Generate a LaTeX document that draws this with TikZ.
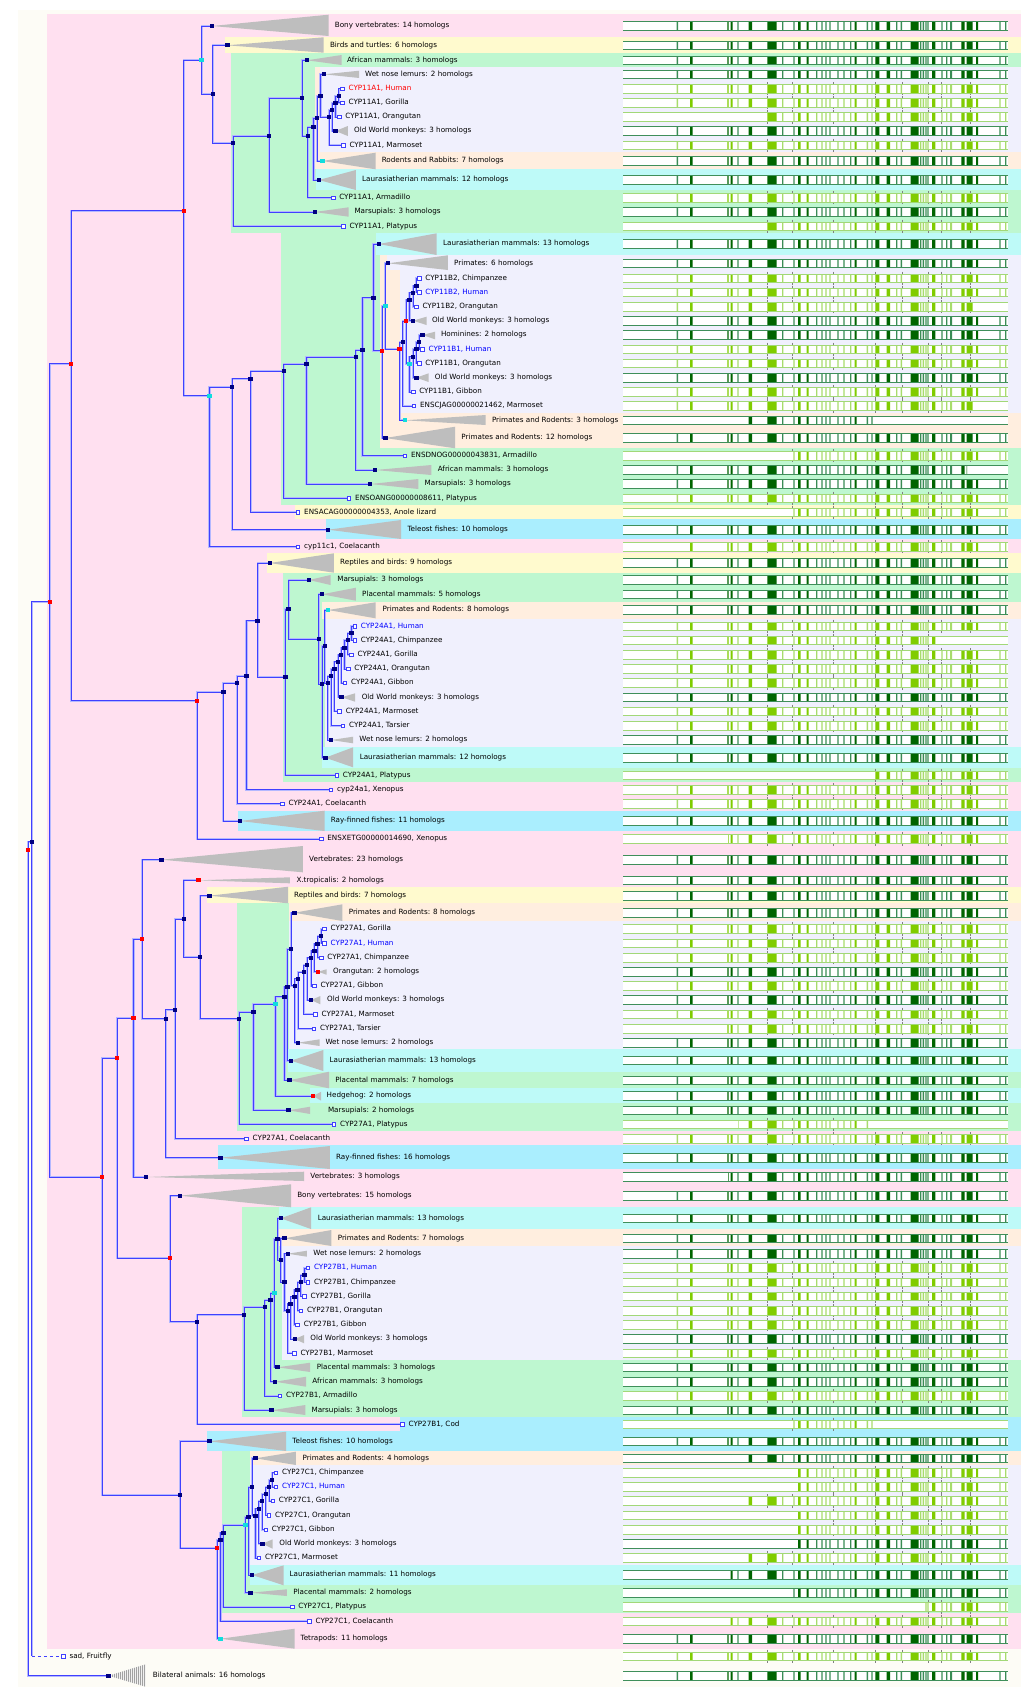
\documentclass[tikz,border=0pt]{standalone}
\usepackage{fontspec}
\setmainfont{DejaVu Sans}
\pgfdeclarelayer{back}
\pgfdeclarelayer{lines}
\pgfsetlayers{back,lines,main}
\definecolor{cream}{HTML}{FDFCF6}
\definecolor{pinkb}{HTML}{FFE0F0}
\definecolor{greenb}{HTML}{BEF7D0}
\definecolor{lavb}{HTML}{F0F0FD}
\definecolor{peachb}{HTML}{FFEEDF}
\definecolor{cyanb}{HTML}{BEFAF8}
\definecolor{blueb}{HTML}{AAEEFE}
\definecolor{yellb}{HTML}{FFFACE}
\definecolor{linec}{HTML}{4040FF}
\definecolor{glowc}{HTML}{B4B8FF}
\definecolor{navy}{HTML}{000080}
\definecolor{dupred}{HTML}{FF0000}
\definecolor{cyn}{HTML}{10DDDD}
\definecolor{trig}{HTML}{BEBEBE}
\definecolor{dkA}{HTML}{006400}
\definecolor{dkB}{HTML}{3A8C55}
\definecolor{ltA}{HTML}{80CC00}
\definecolor{ltB}{HTML}{A8DC6C}
\definecolor{outD}{HTML}{3F8F5A}
\definecolor{outL}{HTML}{A2D878}
\definecolor{tickc}{HTML}{808080}
\definecolor{hublue}{HTML}{0000FF}
\tikzset{
  br/.style={draw=linec, line width=0.9pt, preaction={draw=glowc, line width=2.2pt}},
  sq/.style={rectangle, minimum width=4.4pt, minimum height=4pt, inner sep=0pt, draw=none},
  leafsq/.style={rectangle, minimum size=3.6pt, inner sep=0pt, draw=linec, line width=0.8pt, fill=white},
  lbl/.style={anchor=west, inner sep=0pt, font=\fontsize{7.2}{8}\selectfont, text height=5.2pt, text depth=1.4pt},
  trifill/.style={fill=trig}
}
\def\thicklist{690/2.7, 727.3/1.4, 730.7/2, 748.7/3.3, 767.3/9.4, 798/2.7, 806.7/2, 854.7/2, 875.3/4, 886.7/3.3, 910.7/8, 932/3.3, 961.3/3.4, 966.7/6, 976/2}
\def\thinlist{676.7/1.3, 737.3/1.4, 782/1.3, 793.3/1.4, 816/1.3, 821.3/1.4, 825.3/1.4, 829.3/1.4, 837.3/1.4, 843.3/1.4, 850/1.3, 866.7/1.3, 871.3/1.4, 896/1.3, 900.7/1.3, 920/1.3, 922.7/1.3, 925.3/1.4, 927.3/1.4, 941.3/1.4, 946/1.3, 950/2, 999.3/1.4, 1005/1.3}
\def\ticklist{767.3, 792.7, 833.3, 875.3, 902.7, 928.7, 941.3, 970.7}
\newcommand\band[4]{\fill[#4] (#1,#2) rectangle (1021,#3);}
\newcommand\alnD[3]{%
  \fill[white] (623.3,#1-4.2) rectangle (1008.3,#1+4.2);
  \begin{scope}\clip (#2,#1-5) rectangle (#3,#1+5);
    \fill[dkA] \foreach \a/\w in \thicklist {(\a,#1-4.2) rectangle ++(\w,8.4)};
    \fill[dkB] \foreach \a/\w in \thinlist {(\a,#1-4.2) rectangle ++(\w,8.4)};
  \end{scope}
  \draw[outD,line width=0.8pt] (623.3,#1-4.2) -- (1008.3,#1-4.2) (623.3,#1+4.2) -- (1008.3,#1+4.2);}
\newcommand\alnL[3]{%
  \fill[white] (623.3,#1-4.2) rectangle (1008.3,#1+4.2);
  \begin{scope}\clip (#2,#1-7) rectangle (#3,#1+7);
    \fill[ltA] \foreach \a/\w in \thicklist {(\a,#1-4.2) rectangle ++(\w,8.4)};
    \fill[ltB] \foreach \a/\w in \thinlist {(\a,#1-4.2) rectangle ++(\w,8.4)};
    \draw[tickc,line width=0.6pt] \foreach \t in \ticklist {(\t,#1-6.6) -- (\t,#1-4.2) (\t,#1+4.2) -- (\t,#1+6.6)};
  \end{scope}
  \draw[outL,line width=0.8pt] (623.3,#1-4.2) -- (1008.3,#1-4.2) (623.3,#1+4.2) -- (1008.3,#1+4.2);}
\newcommand\clps[9]{%
  \fill[trifill] (#2,#3) -- (#4,#5) -- (#4,#6) -- cycle;
  \node[sq,fill=#9] (#1) at (#2,#3) {};
  \node[lbl] (#1-t) at (#7,#3) {#8};}
\newcommand\leaf[5]{%
  \node[leafsq] (#1) at (#2,#3) {};
  \node[lbl,text=#5] (#1-t) at (#2+6,#3) {#4};}
\newcommand\inode[4]{\node[sq,fill=#4] (#1) at (#2,#3) {};}
\newcommand\kids[2]{\foreach \c in {#2} {\draw[br] (#1.center) |- (\c.center);}}
\begin{document}
\begin{tikzpicture}[x=1pt,y=-1pt]
\useasboundingbox (0,0) rectangle (1024,1698);
\begin{pgfonlayer}{back}
\fill[white] (0,0) rectangle (1024,1698);
\fill[cream] (18,10.3) rectangle (1021,1687.3);
\band{47.3}{14.3}{1648.7}{pinkb}
\band{224.5}{37.3}{52.7}{yellb}
\band{231}{52.7}{232.7}{greenb}
\band{315.1}{67}{169.3}{peachb}
\band{320.4}{67}{151.7}{lavb}
\band{316.3}{169.3}{190.3}{cyanb}
\band{280.8}{232.7}{504.7}{greenb}
\band{376.3}{232.7}{255}{cyanb}
\band{379.6}{255}{448.3}{peachb}
\band{387}{255}{270}{lavb}
\band{400}{270}{412.7}{lavb}
\band{295.1}{504.7}{519.3}{yellb}
\band{325.7}{519.3}{539}{blueb}
\band{267.3}{553.3}{572.7}{yellb}
\band{282.9}{572.7}{781.7}{greenb}
\band{322.4}{601.7}{619.3}{peachb}
\band{324.5}{619.3}{746.7}{lavb}
\band{322.4}{746.7}{767.7}{cyanb}
\band{237.6}{810.7}{831}{blueb}
\band{206.9}{886.7}{903.3}{yellb}
\band{236.7}{903.3}{1131}{greenb}
\band{288.6}{903.3}{921}{peachb}
\band{288.6}{921}{1049.3}{lavb}
\band{287.8}{1049.3}{1071.7}{cyanb}
\band{310.2}{1088.3}{1102.7}{cyanb}
\band{217.6}{1145}{1169.3}{blueb}
\band{242}{1207.3}{1416.7}{greenb}
\band{278.8}{1207.3}{1229}{cyanb}
\band{278.8}{1229}{1246.3}{peachb}
\band{281.6}{1246.3}{1359.7}{lavb}
\band{400}{1416.7}{1431}{blueb}
\band{206.9}{1431}{1451}{blueb}
\band{221.6}{1451}{1613.3}{greenb}
\band{249.8}{1451}{1465}{peachb}
\band{249.8}{1465}{1564.7}{lavb}
\band{249.8}{1564.7}{1585.3}{cyanb}
% alignment
\alnD{26}{623}{1009}
\alnD{45.3}{623}{1009}
\alnD{60.3}{623}{1009}
\alnD{74.3}{623}{1009}
\alnL{88.7}{623}{1009}
\alnL{102.7}{623}{1009}
\alnL{117}{765}{1009}
\alnD{131}{623}{1009}
\alnL{145.3}{623}{1009}
\alnD{161}{623}{1009}
\alnD{180}{623}{1009}
\alnL{197.7}{623}{1009}
\alnD{212}{623}{1009}
\alnL{226.3}{765}{1009}
\alnD{244}{623}{1009}
\alnD{263.3}{623}{1009}
\alnL{278.3}{623}{1009}
\alnL{292.3}{623}{1009}
\alnL{306.7}{623}{975}
\alnD{320.7}{623}{1009}
\alnD{335}{623}{1009}
\alnL{349.3}{623}{1009}
\alnL{363.3}{623}{1009}
\alnD{377.7}{623}{1009}
\alnL{392}{623}{1009}
\alnL{406}{623}{975}
\alnD{420.3}{745}{873}
\alnD{438}{623}{1009}
\alnL{455.7}{790}{1009}
\alnD{470}{623}{967}
\alnD{484}{623}{1009}
\alnL{498.3}{623}{1009}
\alnL{512.3}{790}{1009}
\alnD{529.7}{623}{1009}
\alnL{546.7}{688}{1009}
\alnD{563}{623}{1009}
\alnD{580}{623}{1009}
\alnD{594.3}{623}{1009}
\alnD{610}{623}{1009}
\alnL{626.3}{623}{1009}
\alnL{640.3}{623}{936}
\alnL{654.7}{623}{1009}
\alnL{669}{623}{1009}
\alnL{683}{623}{1009}
\alnD{697.3}{623}{1009}
\alnL{711.3}{623}{1009}
\alnL{725.7}{623}{1009}
\alnD{740}{623}{1009}
\alnD{757.7}{623}{1009}
\alnL{775.3}{873}{1009}
\alnL{789.7}{623}{1009}
\alnL{803.7}{623}{1009}
\alnD{821}{623}{1009}
\alnL{839}{728}{1009}
\alnD{859.7}{623}{1009}
\alnD{880.3}{623}{1009}
\alnD{895.7}{623}{1009}
\alnD{912.7}{623}{1009}
\alnL{929}{623}{1009}
\alnL{943.3}{623}{1009}
\alnL{957.7}{623}{1009}
\alnD{971.7}{623}{1009}
\alnL{986}{623}{1009}
\alnD{1000}{623}{1009}
\alnL{1014.3}{623}{1009}
\alnL{1028.7}{725}{1009}
\alnD{1042.7}{623}{1009}
\alnD{1060.3}{623}{1009}
\alnD{1080.3}{623}{1009}
\alnD{1096}{623}{1009}
\alnD{1110.3}{623}{1009}
\alnL{1124.3}{738}{868}
\alnL{1138.7}{623}{1009}
\alnD{1157.7}{623}{1009}
\alnD{1177}{728}{1009}
\alnD{1195.7}{623}{1009}
\alnD{1218.3}{623}{1009}
\alnD{1238.3}{623}{1009}
\alnD{1253.7}{623}{1009}
\alnL{1268}{623}{1009}
\alnL{1282.3}{623}{1009}
\alnL{1296.3}{623}{1009}
\alnL{1310.7}{623}{1009}
\alnL{1324.7}{623}{1009}
\alnD{1339}{623}{1009}
\alnL{1353.3}{623}{1009}
\alnD{1367.3}{623}{1009}
\alnD{1381.7}{623}{1009}
\alnL{1396}{623}{1009}
\alnD{1410.3}{623}{1009}
\alnL{1424.3}{790}{873}
\alnD{1441.3}{623}{1009}
\alnD{1458.3}{740}{1009}
\alnL{1472.7}{796}{1009}
\alnL{1487}{796}{1009}
\alnL{1501}{746}{1009}
\alnL{1515.3}{796}{1009}
\alnL{1529.7}{796}{1009}
\alnD{1543.7}{796}{1009}
\alnL{1558}{746}{1009}
\alnD{1575}{730}{1009}
\alnD{1592.7}{791}{1009}
\alnL{1607}{925}{1009}
\alnL{1621.3}{730}{1009}
\alnD{1638.7}{623}{1009}
\alnL{1656.3}{668}{1009}
\alnD{1675.7}{623}{1009}
\end{pgfonlayer}
% collapsed clades
\clps{bony14}{211.8}{26}{328.6}{14.7}{36}{334.7}{Bony vertebrates: 14 homologs}{navy}
\clps{birds6}{227.3}{45.3}{323.7}{37.3}{52.7}{329.8}{Birds and turtles: 6 homologs}{navy}
\clps{afr3a}{307}{60.3}{341.6}{55}{65}{347}{African mammals: 3 homologs}{navy}
\clps{wet2a}{324.1}{74.3}{359.2}{70.7}{78}{364.9}{Wet nose lemurs: 2 homologs}{navy}
\clps{owm3a}{335.5}{131}{347.8}{126}{136}{353.9}{Old World monkeys: 3 homologs}{navy}
\clps{rod7}{322.4}{161}{375.5}{152.7}{169.3}{381.6}{Rodents and Rabbits: 7 homologs}{cyn}
\clps{lau12a}{318.8}{180}{355.9}{170}{190}{362}{Laurasiatherian mammals: 12 homologs}{navy}
\clps{mar3a}{314.7}{212}{348.6}{207.3}{216.7}{354.3}{Marsupials: 3 homologs}{navy}
\clps{lau13a}{378.8}{244}{436.7}{233.3}{255}{442.9}{Laurasiatherian mammals: 13 homologs}{navy}
\clps{prim6}{388.2}{263.3}{447.8}{255.3}{270}{453.9}{Primates: 6 homologs}{navy}
\clps{owm3b}{413.1}{320.7}{426.5}{316.7}{325}{431.8}{Old World monkeys: 3 homologs}{navy}
\clps{hom2}{422.4}{335}{435.1}{331.7}{339.3}{440.8}{Hominines: 2 homologs}{navy}
\clps{owm3c}{416.3}{377.7}{428.6}{373.3}{382}{434.7}{Old World monkeys: 3 homologs}{navy}
\clps{pr3}{404.9}{420.3}{485.7}{415}{425}{491.8}{Primates and Rodents: 3 homologs}{cyn}
\clps{pr12}{385.3}{438}{455.1}{426.7}{448.3}{461.2}{Primates and Rodents: 12 homologs}{navy}
\clps{afr3b}{375.1}{470}{431.4}{465}{475}{437.6}{African mammals: 3 homologs}{navy}
\clps{mar3b}{370.2}{484}{418.4}{479}{489}{424.5}{Marsupials: 3 homologs}{navy}
\clps{tel10a}{328.2}{529.7}{401.2}{520}{539}{407.3}{Teleost fishes: 10 homologs}{navy}
\clps{rep9}{269.8}{563}{333.9}{553.3}{572.7}{340}{Reptiles and birds: 9 homologs}{navy}
\clps{mar3c}{309}{580}{330.6}{575}{585}{337.1}{Marsupials: 3 homologs}{navy}
\clps{pl5}{322}{594.3}{355.9}{587.7}{600.7}{362}{Placental mammals: 5 homologs}{navy}
\clps{pr8a}{328.2}{610}{375.5}{602.3}{618.3}{382.4}{Primates and Rodents: 8 homologs}{cyn}
\clps{owm3d}{341.6}{697.3}{355.1}{693.3}{701.7}{361.6}{Old World monkeys: 3 homologs}{navy}
\clps{wet2b}{331}{740}{353.1}{736.7}{743.3}{359.2}{Wet nose lemurs: 2 homologs}{navy}
\clps{lau12b}{325.3}{757.7}{353.1}{747.3}{767.3}{359.6}{Laurasiatherian mammals: 12 homologs}{navy}
\clps{ray11}{240}{821}{324.5}{810.7}{831}{330.6}{Ray-finned fishes: 11 homologs}{navy}
\clps{vert23}{161.6}{859.7}{302.9}{846}{872.3}{309}{Vertebrates: 23 homologs}{navy}
\clps{xtrop}{198.4}{880.3}{289.8}{877.3}{883.3}{296.3}{X.tropicalis: 2 homologs}{dupred}
\clps{rep7}{209.4}{895.7}{288.2}{886.7}{903.3}{293.9}{Reptiles and birds: 7 homologs}{navy}
\clps{pr8b}{294.3}{912.7}{342.4}{904.3}{921}{348.6}{Primates and Rodents: 8 homologs}{navy}
\clps{ora2}{318}{971.7}{326.5}{969.3}{974.7}{333}{Orangutan: 2 homologs}{dupred}
\clps{owm3e}{311}{1000}{320.4}{996}{1004.3}{327}{Old World monkeys: 3 homologs}{navy}
\clps{wet2c}{298}{1042.7}{319.6}{1039.3}{1046}{325.3}{Wet nose lemurs: 2 homologs}{navy}
\clps{lau13b}{291}{1060.7}{323.3}{1050}{1071}{329.4}{Laurasiatherian mammals: 13 homologs}{navy}
\clps{pl7}{289.4}{1080.3}{329}{1071.7}{1088.3}{335.1}{Placental mammals: 7 homologs}{navy}
\clps{hedge2}{313.1}{1096}{321.2}{1091.7}{1100.7}{326.5}{Hedgehog: 2 homologs}{dupred}
\clps{mar2}{288.6}{1110.3}{310.2}{1106.7}{1114}{327.8}{Marsupials: 2 homologs}{navy}
\clps{ray16}{220.4}{1157.7}{329.8}{1146}{1169}{335.9}{Ray-finned fishes: 16 homologs}{navy}
\clps{vert3}{145.7}{1177}{304.1}{1171.7}{1181}{310.2}{Vertebrates: 3 homologs}{navy}
\clps{bony15}{180}{1195.7}{291}{1184.3}{1207.3}{297.1}{Bony vertebrates: 15 homologs}{navy}
\clps{lau13c}{280.8}{1218.3}{311}{1207.3}{1229}{317.6}{Laurasiatherian mammals: 13 homologs}{navy}
\clps{pr7}{284.5}{1238.3}{331.4}{1230}{1246}{337.6}{Primates and Rodents: 7 homologs}{navy}
\clps{wet2d}{287.8}{1253.7}{306.9}{1250.7}{1256.7}{313.1}{Wet nose lemurs: 2 homologs}{navy}
\clps{owm3f}{294.7}{1339}{304.1}{1335}{1343.3}{310.2}{Old World monkeys: 3 homologs}{navy}
\clps{pl3}{277.6}{1367.3}{310.2}{1362.7}{1372}{316.7}{Placental mammals: 3 homologs}{navy}
\clps{afr3c}{275.1}{1381.7}{306.1}{1376.7}{1386.7}{312.2}{African mammals: 3 homologs}{navy}
\clps{mar3d}{271.4}{1410.3}{305.3}{1405}{1415}{311.4}{Marsupials: 3 homologs}{navy}
\clps{tel10b}{209.4}{1441.3}{286.1}{1431.7}{1451}{292.2}{Teleost fishes: 10 homologs}{navy}
\clps{pr4}{255.5}{1458.3}{295.9}{1451.7}{1465}{302.4}{Primates and Rodents: 4 homologs}{navy}
\clps{owm3g}{262.4}{1543.7}{272.7}{1539.3}{1548.7}{279.2}{Old World monkeys: 3 homologs}{navy}
\clps{lau11}{252.2}{1575}{283.7}{1565.3}{1585.3}{289.4}{Laurasiatherian mammals: 11 homologs}{navy}
\clps{pl2}{250.6}{1592.7}{286.9}{1589.3}{1596}{293.1}{Placental mammals: 2 homologs}{navy}
\clps{tetra11}{220.4}{1638.7}{294.7}{1628.7}{1648.7}{300.4}{Tetrapods: 11 homologs}{cyn}
% bilateral (hatched)
\begin{scope}
\clip (108.6,1675.7) -- (145.7,1664.3) -- (145.7,1686.7) -- cycle;
\fill[gray!12] (100,1660) rectangle (150,1690);
\draw[trig!85!black, line width=0.7pt] \foreach \xx in {110,112,...,146} {(\xx,1660) -- (\xx,1690)};
\end{scope}
\node[sq,fill=navy] (bilat) at (108.6,1675.7) {};
\node[lbl] (bilat-t) at (152.7,1675.7) {Bilateral animals: 16 homologs};
% leaves
\leaf{hum11a}{342.4}{88.7}{CYP11A1, Human}{dupred}
\leaf{gor11a}{342.4}{102.7}{CYP11A1, Gorilla}{black}
\leaf{ora11a}{339.2}{117}{CYP11A1, Orangutan}{black}
\leaf{marm11a}{343.3}{145.3}{CYP11A1, Marmoset}{black}
\leaf{arm11a}{333.1}{197.7}{CYP11A1, Armadillo}{black}
\leaf{pla11a}{343.3}{226.3}{CYP11A1, Platypus}{black}
\leaf{chi11b2}{419.2}{278.3}{CYP11B2, Chimpanzee}{black}
\leaf{hum11b2}{419.2}{292.3}{CYP11B2, Human}{hublue}
\leaf{ora11b2}{416.3}{306.7}{CYP11B2, Orangutan}{black}
\leaf{hum11b1}{422.4}{349.3}{CYP11B1, Human}{hublue}
\leaf{ora11b1}{419.2}{363.3}{CYP11B1, Orangutan}{black}
\leaf{gib11b1}{413.1}{392}{CYP11B1, Gibbon}{black}
\leaf{enscjag}{413.9}{406}{ENSCJAG00000021462, Marmoset}{black}
\leaf{ensdnog}{404.9}{455.7}{ENSDNOG00000043831, Armadillo}{black}
\leaf{ensoang}{349}{498.3}{ENSOANG00000008611, Platypus}{black}
\leaf{ensacag}{298}{512.3}{ENSACAG00000004353, Anole lizard}{black}
\leaf{cyp11c1}{298}{546.7}{cyp11c1, Coelacanth}{black}
\leaf{hum24}{354.7}{626.3}{CYP24A1, Human}{hublue}
\leaf{chi24}{354.7}{640.3}{CYP24A1, Chimpanzee}{black}
\leaf{gor24}{351.4}{654.7}{CYP24A1, Gorilla}{black}
\leaf{ora24}{348.2}{669}{CYP24A1, Orangutan}{black}
\leaf{gib24}{344.9}{683}{CYP24A1, Gibbon}{black}
\leaf{marm24}{339.6}{711.3}{CYP24A1, Marmoset}{black}
\leaf{tar24}{342.9}{725.7}{CYP24A1, Tarsier}{black}
\leaf{pla24}{336.7}{775.3}{CYP24A1, Platypus}{black}
\leaf{xen24}{331}{789.7}{cyp24a1, Xenopus}{black}
\leaf{coel24}{282.4}{803.7}{CYP24A1, Coelacanth}{black}
\leaf{ensxetg}{321.2}{839}{ENSXETG00000014690, Xenopus}{black}
\leaf{gor27a}{324.5}{929}{CYP27A1, Gorilla}{black}
\leaf{hum27a}{324.5}{943.3}{CYP27A1, Human}{hublue}
\leaf{chi27a}{321.2}{957.7}{CYP27A1, Chimpanzee}{black}
\leaf{gib27a}{314.3}{986}{CYP27A1, Gibbon}{black}
\leaf{marm27a}{315.5}{1014.3}{CYP27A1, Marmoset}{black}
\leaf{tar27a}{313.9}{1028.7}{CYP27A1, Tarsier}{black}
\leaf{pla27a}{333.9}{1124.3}{CYP27A1, Platypus}{black}
\leaf{coel27a}{246.5}{1138.7}{CYP27A1, Coelacanth}{black}
\leaf{hum27b}{307.8}{1268}{CYP27B1, Human}{hublue}
\leaf{chi27b}{307.8}{1282.3}{CYP27B1, Chimpanzee}{black}
\leaf{gor27b}{304.5}{1296.3}{CYP27B1, Gorilla}{black}
\leaf{ora27b}{300.8}{1310.7}{CYP27B1, Orangutan}{black}
\leaf{gib27b}{297.6}{1324.7}{CYP27B1, Gibbon}{black}
\leaf{marm27b}{294.3}{1353.3}{CYP27B1, Marmoset}{black}
\leaf{arm27b}{280}{1396}{CYP27B1, Armadillo}{black}
\leaf{cod27b}{402.4}{1424.3}{CYP27B1, Cod}{black}
\leaf{chi27c}{275.9}{1472.7}{CYP27C1, Chimpanzee}{black}
\leaf{hum27c}{275.9}{1487}{CYP27C1, Human}{hublue}
\leaf{gor27c}{272.7}{1501}{CYP27C1, Gorilla}{black}
\leaf{ora27c}{269}{1515.3}{CYP27C1, Orangutan}{black}
\leaf{gib27c}{265.7}{1529.7}{CYP27C1, Gibbon}{black}
\leaf{marm27c}{258.8}{1558}{CYP27C1, Marmoset}{black}
\leaf{pla27c}{292.2}{1607}{CYP27C1, Platypus}{black}
\leaf{coel27c}{309.4}{1621.3}{CYP27C1, Coelacanth}{black}
\leaf{fly}{63.3}{1656.3}{sad, Fruitfly}{black}
% internal nodes
\inode{G}{28.2}{850.3}{dupred}
\inode{F}{31.8}{841.7}{navy}
\inode{D}{49.8}{601.7}{dupred}
\inode{B}{71}{363.7}{dupred}
\inode{A}{183.7}{210.7}{dupred}
\inode{a1}{201.6}{60.3}{cyn}
\inode{a3}{212.7}{94.3}{navy}
\inode{a4}{233.1}{143.3}{navy}
\inode{a5}{269}{136.3}{navy}
\inode{a6}{302}{98}{navy}
\inode{a7}{307.8}{136.3}{navy}
\inode{a8}{313.5}{127}{navy}
\inode{a9}{317.1}{118}{navy}
\inode{a10}{320.4}{96}{navy}
\inode{a11}{329}{117}{navy}
\inode{a12}{332.2}{110}{navy}
\inode{a13}{335.5}{103}{navy}
\inode{a14}{338.8}{96}{navy}
\inode{a2}{209.4}{395.7}{cyn}
\inode{b1}{232.2}{387}{navy}
\inode{b2}{250.6}{378.7}{navy}
\inode{b3}{283.7}{371.3}{navy}
\inode{b4}{306.5}{364.3}{navy}
\inode{b5}{355.9}{357.3}{navy}
\inode{b6}{362.4}{350}{navy}
\inode{b7}{373.5}{297.7}{navy}
\inode{R1}{382}{350.7}{dupred}
\inode{C1}{385.3}{306}{cyn}
\inode{R2}{399.6}{349}{dupred}
\inode{b8}{402.9}{342.3}{navy}
\inode{R3}{406.1}{321}{dupred}
\inode{b2a}{409.4}{299.7}{navy}
\inode{b2b}{413.1}{292.7}{navy}
\inode{b2c}{416.3}{285.7}{navy}
\inode{b1a}{409.4}{363.7}{cyn}
\inode{b1b}{413.1}{356.7}{navy}
\inode{b1c}{416.3}{349.3}{navy}
\inode{b1d}{419.2}{342.3}{navy}
\inode{C}{197.1}{700.7}{dupred}
\inode{c1}{223.3}{692.3}{navy}
\inode{c2}{237.1}{683}{navy}
\inode{c3}{246.5}{676}{navy}
\inode{c4}{257.6}{620.7}{navy}
\inode{c5}{285.3}{677.3}{navy}
\inode{c6}{288.6}{609.3}{navy}
\inode{c7}{318.8}{639}{navy}
\inode{c8}{322}{684}{navy}
\inode{c9}{324.9}{646.3}{navy}
\inode{c10}{327.8}{683.3}{navy}
\inode{c11}{331}{676}{navy}
\inode{c12}{334.3}{669}{navy}
\inode{c13}{338}{661.7}{navy}
\inode{c14}{341.2}{654.7}{navy}
\inode{c15}{344.5}{647.7}{navy}
\inode{c16}{347.8}{640.3}{navy}
\inode{c17}{351.4}{633.3}{navy}
\inode{E}{102}{1177}{dupred}
\inode{H}{117.1}{1058.3}{dupred}
\inode{J}{133.5}{1018}{dupred}
\inode{L}{142}{939}{dupred}
\inode{K}{170.2}{1258.3}{dupred}
\inode{M}{165.7}{1018.7}{navy}
\inode{N}{175.1}{1009.7}{navy}
\inode{O}{183.7}{919}{navy}
\inode{P}{200}{957}{navy}
\inode{Q}{239.2}{1018.7}{navy}
\inode{R}{253.5}{1012}{navy}
\inode{S}{275.5}{1004.3}{cyn}
\inode{T}{284.5}{996.7}{navy}
\inode{U}{287.3}{986.7}{navy}
\inode{V}{291}{949}{navy}
\inode{W}{294.7}{985.7}{navy}
\inode{W1}{298}{978.7}{navy}
\inode{W2}{303.7}{972}{navy}
\inode{W3}{307}{965}{navy}
\inode{W4}{311}{957.7}{navy}
\inode{W5}{314.3}{950.7}{navy}
\inode{W6}{317.6}{943.7}{navy}
\inode{W7}{321.2}{936.3}{navy}
\inode{X}{197.1}{1321.7}{navy}
\inode{Y}{244.1}{1314.7}{navy}
\inode{Z}{264.9}{1307.3}{navy}
\inode{Z2}{270.6}{1300.3}{navy}
\inode{Zc}{274.3}{1293}{cyn}
\inode{k1}{277.6}{1239}{navy}
\inode{k2}{280.8}{1260.3}{navy}
\inode{k3}{284.5}{1282.3}{navy}
\inode{k4}{287.8}{1310.7}{navy}
\inode{k5}{290.6}{1303.7}{navy}
\inode{k6}{294.3}{1296.7}{navy}
\inode{k7}{297.6}{1289.7}{navy}
\inode{k8}{300.8}{1282.3}{navy}
\inode{k9}{304.5}{1275.3}{navy}
\inode{I}{180}{1495}{navy}
\inode{I2}{217.1}{1548.3}{dupred}
\inode{i1}{220.4}{1540}{navy}
\inode{i2}{223.3}{1532.7}{navy}
\inode{i3}{245.3}{1525.3}{cyn}
\inode{i4}{248.6}{1517}{navy}
\inode{i5}{252.2}{1487.3}{navy}
\inode{i6}{255.5}{1515.7}{navy}
\inode{i7}{258.8}{1508.7}{navy}
\inode{i8}{262}{1501.3}{navy}
\inode{i9}{265.7}{1494.3}{navy}
\inode{i10}{269}{1487}{navy}
\inode{i11}{272.2}{1480}{navy}
% connectors
\begin{pgfonlayer}{lines}
\kids{G}{F,bilat}
\kids{F}{D}
\draw[br] (F.center) -- (F.center |- fly.center);
\draw[linec, dashed, line width=0.8pt] (F.center |- fly.center) -- (fly.west);
\kids{D}{B,E}
\kids{B}{A,C}
\kids{A}{a1,a2}
\kids{a1}{bony14,a3}
\kids{a3}{birds6,a4}
\kids{a4}{a5,pla11a}
\kids{a5}{a6,mar3a}
\kids{a6}{afr3a,a7}
\kids{a7}{a8,arm11a}
\kids{a8}{a9,lau12a}
\kids{a9}{a10,rod7}
\kids{a10}{wet2a,a11}
\kids{a11}{a12,marm11a}
\kids{a12}{a13,owm3a}
\kids{a13}{a14,ora11a}
\kids{a14}{hum11a,gor11a}
\kids{a2}{b1,cyp11c1}
\kids{b1}{b2,tel10a}
\kids{b2}{b3,ensacag}
\kids{b3}{b4,ensoang}
\kids{b4}{b5,mar3b}
\kids{b5}{b6,afr3b}
\kids{b6}{b7,ensdnog}
\kids{b7}{lau13a,R1}
\kids{R1}{C1,pr12}
\kids{C1}{prim6,R2}
\kids{R2}{b8,pr3}
\kids{b8}{R3,enscjag}
\kids{R3}{b2a,b1a}
\kids{b2a}{b2b,owm3b}
\kids{b2b}{b2c,ora11b2}
\kids{b2c}{chi11b2,hum11b2}
\kids{b1a}{b1b,gib11b1}
\kids{b1b}{b1c,owm3c}
\kids{b1c}{b1d,ora11b1}
\kids{b1d}{hom2,hum11b1}
\kids{C}{c1,ensxetg}
\kids{c1}{c2,ray11}
\kids{c2}{c3,coel24}
\kids{c3}{c4,xen24}
\kids{c4}{rep9,c5}
\kids{c5}{c6,pla24}
\kids{c6}{mar3c,c7}
\kids{c7}{pl5,c8}
\kids{c8}{c9,lau12b}
\kids{c9}{pr8a,c10}
\kids{c10}{c11,wet2b}
\kids{c11}{c12,tar24}
\kids{c12}{c13,marm24}
\kids{c13}{c14,owm3d}
\kids{c14}{c15,gib24}
\kids{c15}{c16,ora24}
\kids{c16}{c17,gor24}
\kids{c17}{hum24,chi24}
\kids{E}{H,I}
\kids{H}{J,K}
\kids{J}{L,vert3}
\kids{L}{vert23,M}
\kids{M}{N,ray16}
\kids{N}{O,coel27a}
\kids{O}{xtrop,P}
\kids{P}{rep7,Q}
\kids{Q}{R,pla27a}
\kids{R}{S,mar2}
\kids{S}{T,hedge2}
\kids{T}{U,pl7}
\kids{U}{V,lau13b}
\kids{V}{pr8b,W}
\kids{W}{W1,wet2c}
\kids{W1}{W2,tar27a}
\kids{W2}{W3,marm27a}
\kids{W3}{W4,owm3e}
\kids{W4}{W5,gib27a}
\kids{W5}{W6,ora2}
\kids{W6}{W7,chi27a}
\kids{W7}{gor27a,hum27a}
\kids{K}{bony15,X}
\kids{X}{Y,cod27b}
\kids{Y}{Z,mar3d}
\kids{Z}{Z2,arm27b}
\kids{Z2}{Zc,afr3c}
\kids{Zc}{k1,pl3}
\kids{k1}{lau13c,k2}
\kids{k2}{pr7,k3}
\kids{k3}{wet2d,k4}
\kids{k4}{k5,marm27b}
\kids{k5}{k6,owm3f}
\kids{k6}{k7,gib27b}
\kids{k7}{k8,ora27b}
\kids{k8}{k9,gor27b}
\kids{k9}{hum27b,chi27b}
\kids{I}{tel10b,I2}
\kids{I2}{i1,tetra11}
\kids{i1}{i2,coel27c}
\kids{i2}{i3,pla27c}
\kids{i3}{i4,pl2}
\kids{i4}{i5,lau11}
\kids{i5}{pr4,i6}
\kids{i6}{i7,marm27c}
\kids{i7}{i8,owm3g}
\kids{i8}{i9,gib27c}
\kids{i9}{i10,ora27c}
\kids{i10}{i11,gor27c}
\kids{i11}{chi27c,hum27c}
\end{pgfonlayer}
\end{tikzpicture}
\end{document}
